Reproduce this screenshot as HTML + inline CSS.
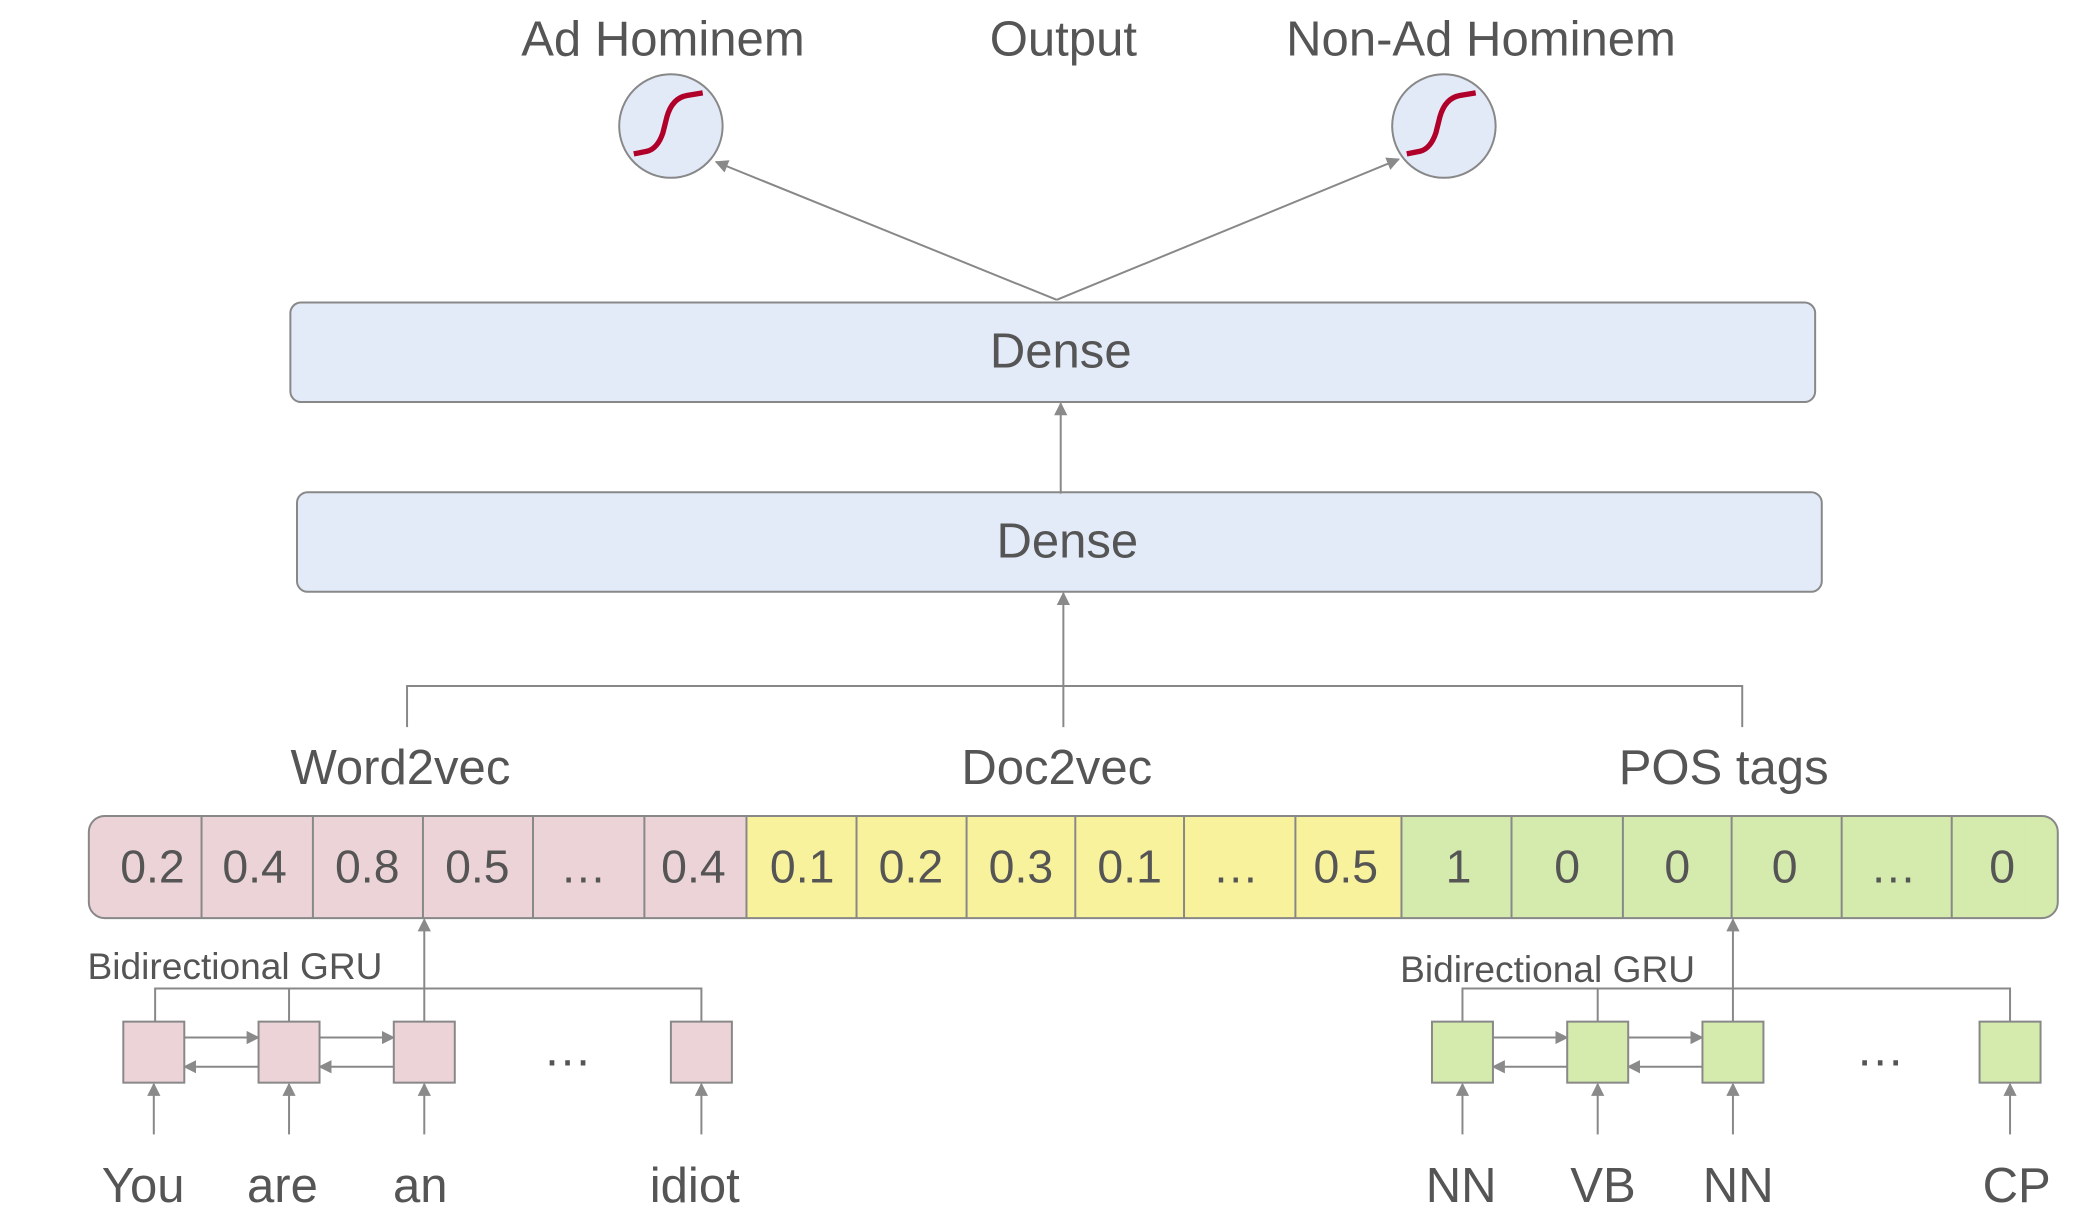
<!DOCTYPE html>
<html><head><meta charset="utf-8"><style>html,body{margin:0;padding:0;background:#fff}svg{display:block}</style></head><body>
<svg width="2079" height="1218" viewBox="0 0 1568 918" preserveAspectRatio="none" xmlns="http://www.w3.org/2000/svg" font-family="Liberation Sans, sans-serif" fill="#555">
<defs><marker id="a" markerWidth="10" markerHeight="10" refX="9" refY="5" orient="auto" markerUnits="userSpaceOnUse"><path d="M0,0 L10,5 L0,10 z" fill="#8a8a8a"/></marker></defs>
<g font-size="37" text-anchor="middle">
<text x="500" y="42">Ad Hominem</text><text x="802" y="42">Output</text><text x="1117" y="42">Non-Ad Hominem</text>
</g>
<g stroke="#888" stroke-width="1.5">
<circle cx="506" cy="95" r="39" fill="#e2eaf8"/><circle cx="1089" cy="95" r="39" fill="#e2eaf8"/>
<line x1="797" y1="226" x2="540" y2="122" marker-end="url(#a)"/>
<line x1="797" y1="226" x2="1055" y2="120" marker-end="url(#a)"/>
<rect x="219" y="228" width="1150" height="75" rx="8" fill="#e3eaf8"/>
<rect x="224" y="371" width="1150" height="75" rx="8" fill="#e3eaf8"/>
<line x1="800" y1="372" x2="800" y2="304" marker-end="url(#a)"/>
<line x1="802" y1="548" x2="802" y2="447" marker-end="url(#a)"/>
<polyline points="307,548 307,517 1314,517 1314,548" fill="none"/>
</g>
<path d="M478,116 L488,114 Q496,112 500,100 L503,88 Q507,74 518,72 L530,70" stroke="#b0002a" stroke-width="4" fill="none"/>
<path d="M1061,116 L1071,114 Q1079,112 1083,100 L1086,88 Q1090,74 1101,72 L1113,70" stroke="#b0002a" stroke-width="4" fill="none"/>
<g font-size="37" text-anchor="middle">
<text x="800" y="277">Dense</text><text x="805" y="420">Dense</text>
<text x="302" y="591">Word2vec</text><text x="797" y="591">Doc2vec</text><text x="1300" y="591">POS tags</text>
</g>
<rect x="67" y="615" width="496" height="77" rx="12" fill="#ecd3d8"/>
<rect x="90" y="615" width="473" height="77" fill="#ecd3d8"/>
<rect x="563" y="615" width="494" height="77" fill="#f8f29c"/>
<rect x="1057" y="615" width="495" height="77" rx="12" fill="#d5eaad"/>
<rect x="1057" y="615" width="470" height="77" fill="#d5eaad"/>
<rect x="67" y="615" width="1485" height="77" rx="12" fill="none" stroke="#888" stroke-width="1.5"/>
<g stroke="#888" stroke-width="1.5">
<line x1="152" y1="615" x2="152" y2="692"/><line x1="236" y1="615" x2="236" y2="692"/><line x1="319" y1="615" x2="319" y2="692"/><line x1="402" y1="615" x2="402" y2="692"/><line x1="486" y1="615" x2="486" y2="692"/><line x1="563" y1="615" x2="563" y2="692"/>
<line x1="646" y1="615" x2="646" y2="692"/><line x1="729" y1="615" x2="729" y2="692"/><line x1="811" y1="615" x2="811" y2="692"/><line x1="893" y1="615" x2="893" y2="692"/><line x1="977" y1="615" x2="977" y2="692"/><line x1="1057" y1="615" x2="1057" y2="692"/>
<line x1="1140" y1="615" x2="1140" y2="692"/><line x1="1224" y1="615" x2="1224" y2="692"/><line x1="1306" y1="615" x2="1306" y2="692"/><line x1="1389" y1="615" x2="1389" y2="692"/><line x1="1472" y1="615" x2="1472" y2="692"/>
</g>
<g font-size="35" text-anchor="middle">
<text x="115" y="665">0.2</text><text x="192" y="665">0.4</text><text x="277" y="665">0.8</text><text x="360" y="665">0.5</text><text x="440" y="665">…</text><text x="523" y="665">0.4</text>
<text x="605" y="665">0.1</text><text x="687" y="665">0.2</text><text x="770" y="665">0.3</text><text x="852" y="665">0.1</text><text x="932" y="665">…</text><text x="1015" y="665">0.5</text>
<text x="1100" y="665">1</text><text x="1182" y="665">0</text><text x="1265" y="665">0</text><text x="1346" y="665">0</text><text x="1428" y="665">…</text><text x="1510" y="665">0</text>
</g>
<g font-size="28"><text x="66" y="738">Bidirectional GRU</text><text x="1056" y="740">Bidirectional GRU</text></g>
<g stroke="#888" stroke-width="1.5" fill="none">
<polyline points="117,770 117,745 529,745 529,770"/><line x1="218" y1="745" x2="218" y2="770"/>
<line x1="320" y1="770" x2="320" y2="693" marker-end="url(#a)"/>
<polyline points="1103,770 1103,745 1516,745 1516,770"/><line x1="1205" y1="745" x2="1205" y2="770"/>
<line x1="1307" y1="770" x2="1307" y2="693" marker-end="url(#a)"/>
</g>
<g stroke="#888" stroke-width="1.5">
<rect x="93" y="770" width="46" height="46" fill="#ecd3d8"/><rect x="195" y="770" width="46" height="46" fill="#ecd3d8"/><rect x="297" y="770" width="46" height="46" fill="#ecd3d8"/><rect x="506" y="770" width="46" height="46" fill="#ecd3d8"/>
<rect x="1080" y="770" width="46" height="46" fill="#d5eaad"/><rect x="1182" y="770" width="46" height="46" fill="#d5eaad"/><rect x="1284" y="770" width="46" height="46" fill="#d5eaad"/><rect x="1493" y="770" width="46" height="46" fill="#d5eaad"/>
<line x1="139" y1="782" x2="195" y2="782" marker-end="url(#a)"/><line x1="195" y1="804" x2="139" y2="804" marker-end="url(#a)"/>
<line x1="241" y1="782" x2="297" y2="782" marker-end="url(#a)"/><line x1="297" y1="804" x2="241" y2="804" marker-end="url(#a)"/>
<line x1="1126" y1="782" x2="1182" y2="782" marker-end="url(#a)"/><line x1="1182" y1="804" x2="1126" y2="804" marker-end="url(#a)"/>
<line x1="1228" y1="782" x2="1284" y2="782" marker-end="url(#a)"/><line x1="1284" y1="804" x2="1228" y2="804" marker-end="url(#a)"/>
<line x1="116" y1="855" x2="116" y2="817" marker-end="url(#a)"/><line x1="218" y1="855" x2="218" y2="817" marker-end="url(#a)"/><line x1="320" y1="855" x2="320" y2="817" marker-end="url(#a)"/><line x1="529" y1="855" x2="529" y2="817" marker-end="url(#a)"/>
<line x1="1103" y1="855" x2="1103" y2="817" marker-end="url(#a)"/><line x1="1205" y1="855" x2="1205" y2="817" marker-end="url(#a)"/><line x1="1307" y1="855" x2="1307" y2="817" marker-end="url(#a)"/><line x1="1516" y1="855" x2="1516" y2="817" marker-end="url(#a)"/>
</g>
<g font-size="37" text-anchor="middle">
<text x="428" y="803">…</text><text x="1418" y="803">…</text>
<text x="108" y="906">You</text><text x="213" y="906">are</text><text x="317" y="906">an</text><text x="524" y="906">idiot</text>
<text x="1102" y="906">NN</text><text x="1209" y="906">VB</text><text x="1311" y="906">NN</text><text x="1521" y="906">CP</text>
</g>
</svg>
</body></html>
